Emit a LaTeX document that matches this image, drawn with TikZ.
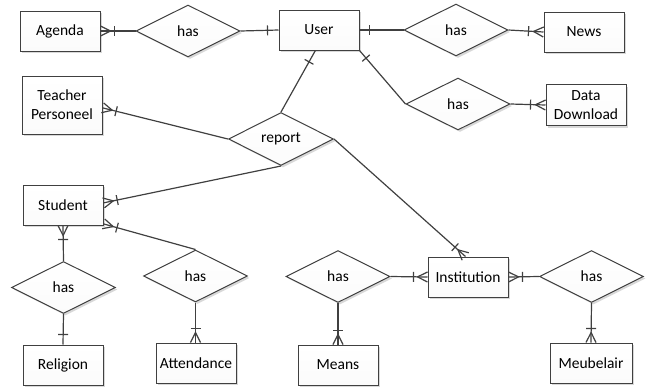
\documentclass[tikz,border=0pt]{standalone}
\usepackage{fontspec}
\setmainfont{Carlito}
\usetikzlibrary{calc,shapes.geometric,shadows}
\definecolor{edgec}{HTML}{404040}
\definecolor{fillc}{HTML}{F0F0F0}
\tikzset{
  ent/.style={draw=edgec, line width=1pt, top color=white, bottom color=fillc!90!black!10, minimum width=80pt, minimum height=40pt, inner sep=1pt, align=center,
    font=\fontsize{15.5}{19}\selectfont,
    drop shadow={shadow xshift=2pt, shadow yshift=-2pt, fill=black!30}},
  rel/.style={diamond, draw=edgec, line width=1pt, top color=white, bottom color=fillc!90!black!10, minimum width=104pt, minimum height=52pt, inner sep=0pt,
    font=\fontsize{15.5}{19}\selectfont,
    drop shadow={shadow xshift=2pt, shadow yshift=-2pt, fill=black!30}},
  conn/.style={draw=edgec, line width=1.2pt}
}
\newcommand{\crowft}[2]{\draw[conn] ($(#1)!5pt!90:(#2)$) -- ($(#1)!10pt!(#2)$) -- ($(#1)!5pt!-90:(#2)$);}
\newcommand{\tickmk}[3]{\path ($(#1)!#3!(#2)$) coordinate (tk); \draw[conn] ($(tk)!5pt!90:(#2)$) -- ($(tk)!5pt!-90:(#2)$);}
\begin{document}
\begin{tikzpicture}[x=1pt,y=-1pt]
\useasboundingbox (0,0) rectangle (648,389);
% entities
\node[ent] (agenda) at (60,31) {Agenda};
\node[ent] (user) at (319,30) {User};
\node[ent] (news) at (584,32) {News};
\node[ent, minimum height=41pt] (data) at (586,105) {Data\\Download};
\node[ent, minimum height=58pt] (teacher) at (62,105) {Teacher\\Personeel};
\node[ent] (student) at (63,205) {Student};
\node[ent] (religion) at (63,365) {Religion};
\node[ent] (attend) at (196,363) {Attendance};
\node[ent] (means) at (338,365) {Means};
\node[ent] (inst) at (468,277) {Institution};
\node[ent, minimum width=82pt] (meub) at (591,363) {Meubelair};
% relations
\node[rel] (h1) at (188,31) {has};
\node[rel] (hn) at (456,30) {has};
\node[rel] (hd) at (458,104) {has};
\node[rel, minimum width=105pt, minimum height=53pt] (rep) at (281,139) {report};
\node[rel] (hr) at (63.5,287.5) {has};
\node[rel] (ha) at (195.5,276) {has};
\node[rel] (hm) at (338,276.5) {has};
\node[rel] (hb) at (591.5,276.5) {has};
% connectors
\draw[conn] (agenda.east) -- (h1.west);
\crowft{agenda.east}{h1.west}\tickmk{agenda.east}{h1.west}{14pt}
\draw[conn] (h1.east) -- (user.west);
\tickmk{user.west}{h1.east}{11pt}
\draw[conn] (user.east) -- (hn.west);
\tickmk{user.east}{hn.west}{10pt}
\draw[conn] (hn.east) -- (news.west);
\crowft{news.west}{hn.east}\tickmk{news.west}{hn.east}{15pt}
\draw[conn] (user.south east) -- (hd.west);
\tickmk{user.south east}{hd.west}{10pt}
\draw[conn] (hd.east) -- (data.west);
\crowft{data.west}{hd.east}\tickmk{data.west}{hd.east}{15pt}
\draw[conn] (rep.north) -- (user.-100);
\tickmk{user.-100}{rep.north}{13pt}
\draw[conn] (rep.west) -- (teacher.-4);
\crowft{teacher.-4}{rep.west}\tickmk{teacher.-4}{rep.west}{14pt}
\draw[conn] (rep.south) -- (student.3);
\crowft{student.3}{rep.south}\tickmk{student.3}{rep.south}{14pt}
\draw[conn] (rep.east) -- (inst.97);
\crowft{inst.97}{rep.east}\tickmk{inst.97}{rep.east}{14pt}
\draw[conn] (student.-25) -- (ha.north);
\crowft{student.-25}{ha.north}\tickmk{student.-25}{ha.north}{14pt}
\draw[conn] (student.south) -- (hr.north);
\crowft{student.south}{hr.north}\tickmk{student.south}{hr.north}{14pt}
\draw[conn] (hr.south) -- (religion.north);
\tickmk{religion.north}{hr.south}{10pt}
\draw[conn] (ha.south) -- (attend.north -| ha.south);
\crowft{attend.north -| ha.south}{ha.south}\tickmk{attend.north -| ha.south}{ha.south}{14pt}
\draw[conn] (hm.east) -- (inst.west);
\crowft{inst.west}{hm.east}\tickmk{inst.west}{hm.east}{14pt}
\draw[conn] (inst.east) -- (hb.west);
\crowft{inst.east}{hb.west}\tickmk{inst.east}{hb.west}{14pt}
\draw[conn] (hm.south) -- (means.north);
\crowft{means.north}{hm.south}\tickmk{means.north}{hm.south}{14pt}
\draw[conn] (hb.south) -- (meub.north);
\crowft{meub.north}{hb.south}\tickmk{meub.north}{hb.south}{14pt}
\end{tikzpicture}
\end{document}
